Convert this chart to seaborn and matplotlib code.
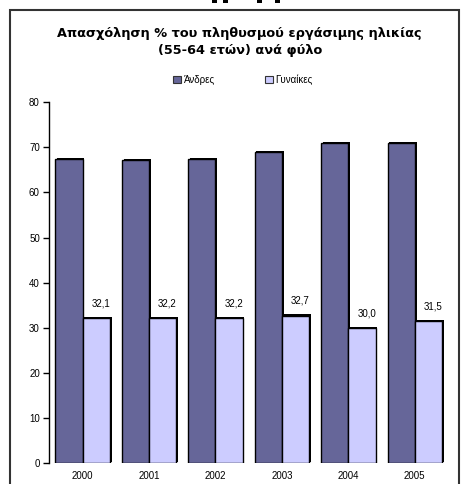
import matplotlib
matplotlib.use("Agg")
import matplotlib.pyplot as plt
import matplotlib.patheffects as pe
from matplotlib.patches import Rectangle, Patch
import seaborn as sns
import pandas as pd

# ---- data ----
years = ["2000", "2001", "2002", "2003", "2004", "2005"]
men = [67.5, 67.1, 67.5, 69.0, 71.0, 71.0]
women = [32.1, 32.2, 32.2, 32.7, 30.0, 31.5]
series_names = ["Άνδρες", "Γυναίκες"]
title = "Απασχόληση % του πληθυσμού εργάσιμης ηλικίας\n(55-64 ετών) ανά φύλο"
yticks = [0, 10, 20, 30, 40, 50, 60, 70, 80]
colors = ["#666699", "#CCCCFF"]

df = pd.DataFrame({
    "year": years * 2,
    "value": men + women,
    "sex": [series_names[0]] * len(years) + [series_names[1]] * len(years),
})

sns.set_style("white")
plt.rcParams["font.family"] = ["Liberation Sans", "DejaVu Sans"]
plt.rcParams["text.color"] = "black"
plt.rcParams["xtick.color"] = "black"
plt.rcParams["ytick.color"] = "black"
plt.rcParams["axes.labelcolor"] = "black"

W, H = 461, 484
fig = plt.figure(figsize=(W / 100, H / 100), dpi=100)
ax = fig.add_axes([49.3 / W, 1 - 463 / H, (448 - 49.3) / W, (463 - 102.3) / H])

sns.barplot(data=df, x="year", y="value", hue="sex", palette=colors,
            width=0.82, edgecolor="black", linewidth=1.0, saturation=1,
            ax=ax, legend=False)

shadow = [pe.SimplePatchShadow(offset=(1.3, 0.8), shadow_rgbFace="black", alpha=1.0), pe.Normal()]
for p in ax.patches:
    p.set_path_effects(shadow)

# value labels on women bars
for bar, v in zip(ax.containers[1], women):
    x = bar.get_x() + bar.get_width() / 2
    ax.annotate(f"{v:.1f}".replace(".", ","), xy=(x, bar.get_height()),
                xytext=(3.5, 7), textcoords="offset points",
                ha="center", va="bottom", fontsize=7, color="black")

ax.set_ylim(0, 80)
ax.set_xlim(-0.5, 5.5)
ax.set_yticks(yticks)
ax.set_xlabel("")
ax.set_ylabel("")
for s in ["top", "right", "bottom"]:
    ax.spines[s].set_visible(False)
ax.spines["left"].set_color("black")
ax.spines["left"].set_linewidth(1.0)
ax.tick_params(axis="y", direction="out", length=4.3, width=1, color="black",
               labelsize=7, labelcolor="black", pad=2.5, left=True)
ax.tick_params(axis="x", length=0, labelsize=7, labelcolor="black", pad=6)
ax.grid(False)

# legend
handles = [Patch(facecolor=c, edgecolor="#333333", linewidth=0.8) for c in colors]
fig.legend(handles, series_names, loc="center", bbox_to_anchor=(243 / W, 1 - 80 / H),
           ncol=2, frameon=False, fontsize=7, handlelength=0.75, handleheight=0.75,
           handletextpad=0.3, columnspacing=5.2, labelcolor="black")

# title
fig.text(0.52, 1 - 42 / H, title, ha="center", va="center", fontsize=9.3,
         fontweight="bold", family=["DejaVu Sans"], linespacing=1.35, color="black")

# outer frame
fig.patches.append(Rectangle((10 / W, -0.05), (459 - 10) / W, (1 - 10 / H) + 0.05,
                             transform=fig.transFigure, fill=False,
                             edgecolor="#333333", linewidth=1.5))
# cropped marks at the top edge
for x0 in [212, 223, 257, 275]:
    fig.patches.append(Rectangle((x0 / W, 1 - 3 / H), 5 / W, 3 / H,
                                 transform=fig.transFigure, facecolor="black",
                                 edgecolor="none"))

fig.savefig("out.png", dpi=100)
